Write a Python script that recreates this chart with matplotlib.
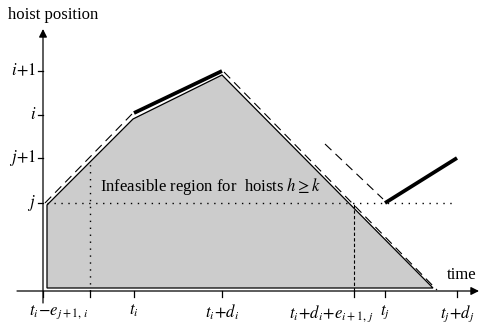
import matplotlib
matplotlib.use('Agg')
import matplotlib.pyplot as plt
from matplotlib.patches import Polygon

plt.rcParams['font.family'] = ['Liberation Serif', 'DejaVu Serif']
plt.rcParams['mathtext.fontset'] = 'stix'

# time points on the x axis (arbitrary units)
t_ticks = [0.0, 4.7, 9.1, 17.9, 31.1, 34.2, 41.4]
t_labels = [r'$t_i\!-\!e_{j+1,\,i}$', '', r'$t_i$', r'$t_i\!+\!d_i$',
            r'$t_i\!+\!d_i\!+\!e_{i+1,\,j}$', r'$t_j$', r'$t_j\!+\!d_j$']
# label anchor offsets (some labels are shifted off their tick)
t_lab_dx = [-1.4, 0, 0, 0, -2.3, 0, 0]
t_lab_ha = ['left', 'center', 'center', 'center', 'center', 'center', 'center']

# hoist levels on the y axis
lev_vals = [8.8, 13.3, 17.6, 22.0]
lev_labels = [r'$j$', r'$j\!+\!1$', r'$i$', r'$i\!+\!1$']

# infeasible region (grey polygon)
reg_x = [0.4, 0.4, 9.0, 17.9, 39.0]
reg_y = [0.3, 8.6, 17.2, 21.6, 0.3]

# hoist i move (dashed / thick / dashed)
dash1_x = [0.2, 8.9]
dash1_y = [8.8, 17.7]
thick1_x = [9.1, 17.9]
thick1_y = [17.8, 22.0]
dash2_x = [18.1, 39.4]
dash2_y = [21.9, 0.1]

# hoist j move
dash3_x = [28.2, 34.0]
dash3_y = [14.7, 9.2]
thick2_x = [34.2, 41.4]
thick2_y = [8.8, 13.3]

fig = plt.figure(figsize=(4.8, 3.23), dpi=100)
ax = fig.add_axes([0, 0, 1, 1])
ax.set_xlim(-4.3, 43.7)
ax.set_ylim(-3.2, 29.1)
ax.axis('off')

poly = Polygon(list(zip(reg_x, reg_y)), closed=True, facecolor='#cccccc',
               edgecolor='black', linewidth=0.9, zorder=1)
ax.add_patch(poly)

ax.plot(dash1_x, dash1_y, color='black', lw=0.8, ls=(0, (8, 5)), zorder=3)
ax.plot(thick1_x, thick1_y, color='black', lw=2.7, solid_capstyle='butt', zorder=3)
ax.plot(dash2_x, dash2_y, color='black', lw=0.8, ls=(0, (8, 5)), zorder=3)
ax.plot(dash3_x, dash3_y, color='black', lw=0.8, ls=(0, (8, 5)), zorder=3)
ax.plot(thick2_x, thick2_y, color='black', lw=2.7, solid_capstyle='butt', zorder=3)

# guide lines
ax.plot([0.4, 41.2], [lev_vals[0], lev_vals[0]], color='black', lw=1.0,
        ls=(0, (1, 4)), zorder=2)
ax.plot([t_ticks[1], t_ticks[1]], [0, 13.0], color='black', lw=1.0,
        ls=(0, (1, 4)), zorder=2)
ax.plot([t_ticks[4], t_ticks[4]], [0, lev_vals[0]], color='black', lw=0.8,
        ls=(0, (3, 2)), zorder=2)

# axes with arrows
ax.annotate('', xy=(43.6, 0), xytext=(-2.6, 0),
            arrowprops=dict(arrowstyle='-|>', color='black', lw=0.9,
                            mutation_scale=12, shrinkA=0, shrinkB=0))
ax.annotate('', xy=(0, 26.2), xytext=(0, -1.2),
            arrowprops=dict(arrowstyle='-|>', color='black', lw=0.9,
                            mutation_scale=12, shrinkA=0, shrinkB=0))

for t, lab, dx, ha in zip(t_ticks, t_labels, t_lab_dx, t_lab_ha):
    ax.plot([t, t], [0, -0.6], color='black', lw=0.9)
    ax.text(t + dx, -1.2, lab, ha=ha, va='top', fontsize=12)

for v, lab in zip(lev_vals, lev_labels):
    ax.plot([-0.5, 0], [v, v], color='black', lw=0.9)
    ax.text(-0.7, v, lab, ha='right', va='center', fontsize=12)

ax.text(-3.5, 27.6, 'hoist position', ha='left', va='center', fontsize=12)
ax.text(40.4, 1.6, 'time', ha='left', va='center', fontsize=12)
ax.text(5.7, 10.5, r'Infeasible region for  hoists $h\geq k$', ha='left',
        va='center', fontsize=12)

fig.savefig('out.png', dpi=100)
